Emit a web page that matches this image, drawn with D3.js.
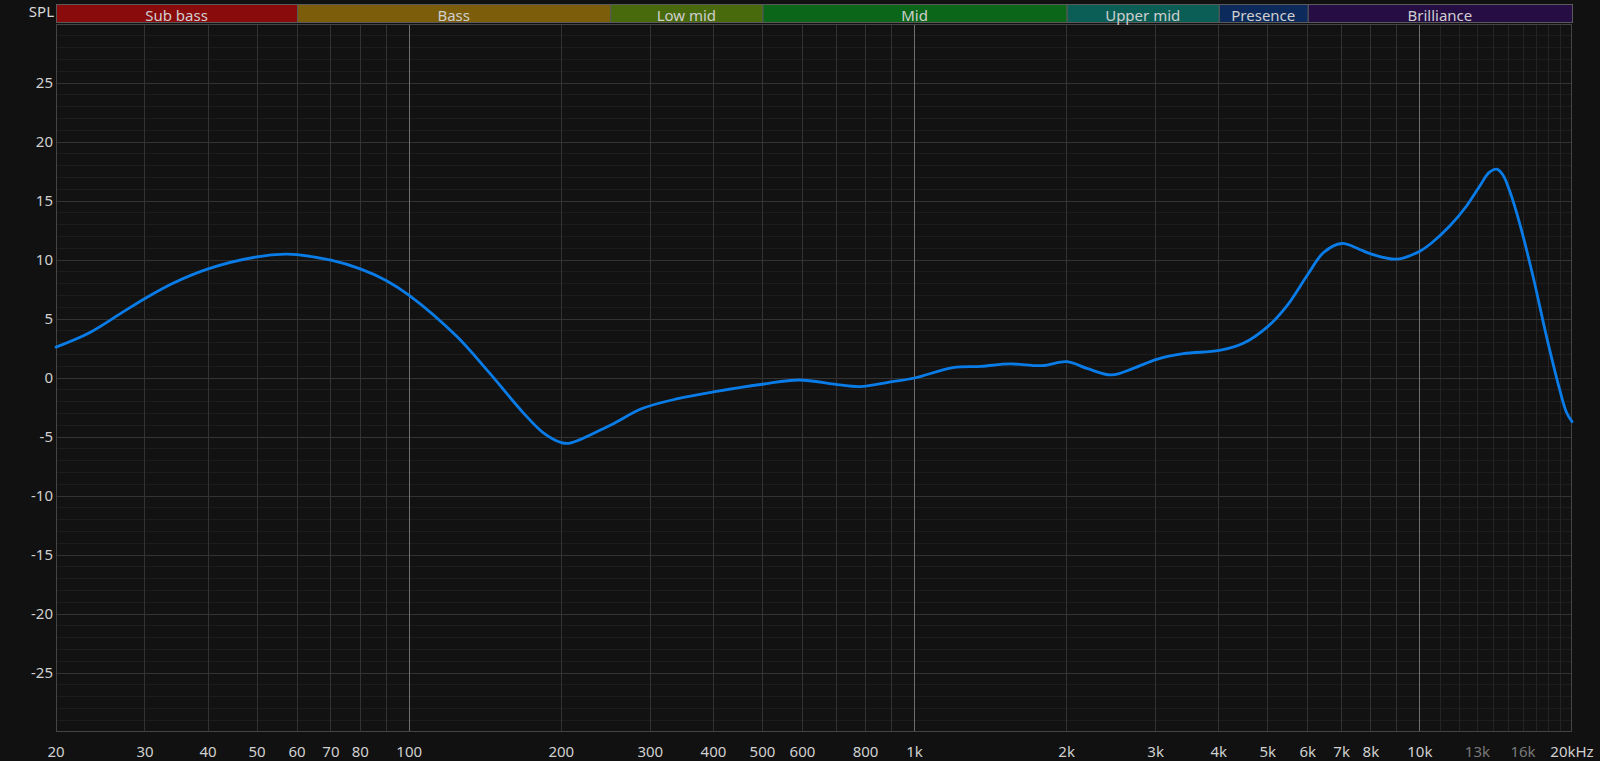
<!DOCTYPE html>
<html>
<head>
<meta charset="utf-8">
<script src="https://cdn.jsdelivr.net/npm/d3@7"></script>
<style>
  html, body { margin: 0; padding: 0; background: #111111; }
  svg { display: block; }
  text { font-family: "Noto Sans", "Open Sans", sans-serif; }
</style>
</head>
<body>
<svg id="chart" width="1600" height="761"></svg>
<script>
// ---- data ----
const freqs = [20, 23.3, 27.1, 30, 34, 40, 50, 57, 60, 70, 80, 90, 100, 124, 144, 168, 184, 200, 208, 250,
  289, 340, 400, 500, 591, 702, 780, 903, 1000, 1191, 1356, 1545, 1788, 2004, 2200, 2455, 2710, 3014, 3403,
  4009, 4472, 5012, 5450, 6000, 6440, 7000, 7604, 8000, 9000, 10000, 10520, 11470, 12380, 13150, 13700, 14190,
  14600, 15070, 15780, 16770, 17800, 18900, 19500, 20000];
const spl = [2.62, 3.84, 5.58, 6.74, 8.01, 9.25, 10.27, 10.5, 10.45, 9.98, 9.25, 8.27, 7.0, 3.55, 0.45, -2.93, -4.62, -5.47, -5.52, -4.0,
  -2.59, -1.75, -1.18, -0.53, -0.17, -0.56, -0.73, -0.31, 0.0, 0.88, 0.99, 1.19, 1.05, 1.38, 0.79, 0.26, 0.82, 1.58, 2.06,
  2.34, 2.94, 4.4, 6.09, 8.77, 10.61, 11.4, 10.89, 10.52, 10.07, 10.75, 11.4, 12.9, 14.6, 16.3, 17.4, 17.7,
  17.2, 15.8, 13.0, 8.5, 3.55, -0.95, -2.9, -3.7];

const bandNames = ["Sub bass", "Bass", "Low mid", "Mid", "Upper mid", "Presence", "Brilliance"];
const bandEdges = [20, 60, 250, 500, 2000, 4000, 6000, 20000];
const bandColors = ["#8a0b0b", "#7c5e0a", "#486a0c", "#0b6619", "#0b5e56", "#0c2a5c", "#260d44"];

const xTickValues = [20, 30, 40, 50, 60, 70, 80, 100, 200, 300, 400, 500, 600, 800, 1000, 2000, 3000, 4000,
  5000, 6000, 7000, 8000, 10000, 13000, 16000, 20000];
const xTickLabels = ["20", "30", "40", "50", "60", "70", "80", "100", "200", "300", "400", "500", "600", "800",
  "1k", "2k", "3k", "4k", "5k", "6k", "7k", "8k", "10k", "13k", "16k", "20kHz"];
const dimLabels = ["13k", "16k"];

const gridFreqs = [30, 40, 50, 60, 70, 80, 90, 200, 300, 400, 500, 600, 700, 800, 900,
  2000, 3000, 4000, 5000, 6000, 7000, 8000, 9000];
const decadeFreqs = [100, 1000, 10000];
const fineFreqs = [11000, 12000, 13000, 14000, 15000, 16000, 17000, 18000, 19000];

const yTicks = [-25, -20, -15, -10, -5, 0, 5, 10, 15, 20, 25];

// ---- layout ----
const L = 56, R = 1572, T = 24, B = 732;
const svg = d3.select("#chart");
svg.append("rect").attr("width", 1600).attr("height", 761).attr("fill", "#111111");

const x = d3.scaleLog().domain([20, 20000]).range([L, R]);
const y = d3.scaleLinear().domain([-30, 30]).range([B, T]);

svg.append("rect").attr("x", L).attr("y", T).attr("width", R - L).attr("height", B - T).attr("fill", "#121212");

const grid = svg.append("g");
grid.selectAll("line.hmin").data(d3.range(-29, 30).filter(v => v % 5 !== 0)).join("line")
  .attr("x1", L).attr("x2", R).attr("y1", d => y(d)).attr("y2", d => y(d))
  .attr("stroke", "#1d1d1d").attr("stroke-width", 1).attr("shape-rendering", "crispEdges");
grid.selectAll("line.vfine").data(fineFreqs).join("line")
  .attr("x1", d => x(d)).attr("x2", d => x(d)).attr("y1", T).attr("y2", B)
  .attr("stroke", "#242424").attr("stroke-width", 1).attr("shape-rendering", "crispEdges");
grid.selectAll("line.hmaj").data(d3.range(-25, 30, 5)).join("line")
  .attr("x1", L).attr("x2", R).attr("y1", d => y(d)).attr("y2", d => y(d))
  .attr("stroke", "#333333").attr("stroke-width", 1).attr("shape-rendering", "crispEdges");
grid.selectAll("line.v").data(gridFreqs).join("line")
  .attr("x1", d => x(d)).attr("x2", d => x(d)).attr("y1", T).attr("y2", B)
  .attr("stroke", "#333333").attr("stroke-width", 1).attr("shape-rendering", "crispEdges");
grid.selectAll("line.dec").data(decadeFreqs).join("line")
  .attr("x1", d => x(d)).attr("x2", d => x(d)).attr("y1", T).attr("y2", B)
  .attr("stroke", "#6e6e6e").attr("stroke-width", 1).attr("shape-rendering", "crispEdges");

svg.append("rect").attr("x", L + 0.5).attr("y", T + 0.5).attr("width", R - L - 1).attr("height", B - T - 1)
  .attr("fill", "none").attr("stroke", "#444444").attr("stroke-width", 1);

// bands
const bands = bandNames.map((n, i) => ({ name: n, f0: bandEdges[i], f1: bandEdges[i + 1], color: bandColors[i] }));
const bg = svg.append("g");
bg.selectAll("rect").data(bands).join("rect")
  .attr("x", d => x(d.f0) + 0.5).attr("y", 4.5)
  .attr("width", d => x(d.f1) - x(d.f0)).attr("height", 18)
  .attr("fill", d => d.color).attr("stroke", "#5a5a5a").attr("stroke-width", 1);
bg.selectAll("text").data(bands).join("text")
  .attr("x", d => (x(d.f0) + x(d.f1)) / 2).attr("y", 20.5)
  .attr("text-anchor", "middle").attr("font-size", 15).attr("fill", "#cfcfcf")
  .text(d => d.name);

svg.append("text").attr("x", 54).attr("y", 17).attr("text-anchor", "end")
  .attr("font-size", 15).attr("fill", "#d8d8d8").text("SPL");

svg.append("g").selectAll("text").data(yTicks).join("text")
  .attr("x", 53).attr("y", d => y(d)).attr("dy", "0.35em").attr("text-anchor", "end")
  .attr("font-size", 15).attr("fill", "#d0d0d0").text(d => d);

svg.append("g").selectAll("text").data(xTickValues).join("text")
  .attr("x", d => x(d)).attr("y", 757).attr("text-anchor", "middle")
  .attr("font-size", 15)
  .attr("fill", (d, i) => dimLabels.includes(xTickLabels[i]) ? "#7a7a7a" : "#d0d0d0")
  .text((d, i) => xTickLabels[i]);

// curve
const pts = freqs.map((f, i) => [f, spl[i]]);
const line = d3.line().x(d => x(d[0])).y(d => y(d[1])).curve(d3.curveCatmullRom.alpha(0.5));
svg.append("path").datum(pts).attr("d", line)
  .attr("fill", "none").attr("stroke", "#0a7ce8").attr("stroke-width", 2.8)
  .attr("stroke-linejoin", "round").attr("stroke-linecap", "round");
</script>
</body>
</html>
